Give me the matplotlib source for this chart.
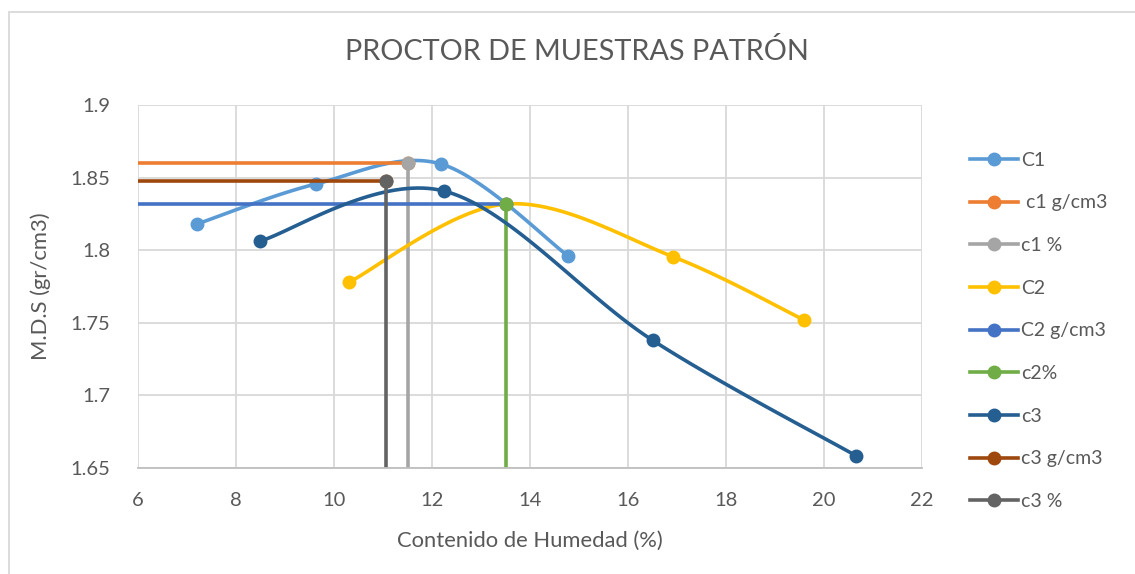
import numpy as np
import matplotlib
matplotlib.use("Agg")
import matplotlib.pyplot as plt
from matplotlib.patches import Rectangle

# data
c1_x = [7.2, 9.63, 12.18, 14.78]
c1_y = [1.818, 1.8456, 1.8594, 1.796]
c2_x = [10.31, 13.51, 16.92, 19.59]
c2_y = [1.778, 1.8318, 1.7955, 1.752]
c3_x = [8.49, 12.24, 16.5, 20.65]
c3_y = [1.8063, 1.8408, 1.738, 1.6585]

# optimum values (horizontal / vertical guide series)
c1_opt = (11.51, 1.860)
c2_opt = (13.51, 1.8318)
c3_opt = (11.06, 1.8478)

x_ticks = [6, 8, 10, 12, 14, 16, 18, 20, 22]
y_ticks = [1.65, 1.7, 1.75, 1.8, 1.85, 1.9]


def smooth(xs, ys, n=40):
    # Excel-like smoothed line: cubic bezier with catmull-rom control points
    p = np.column_stack([xs, ys])
    p = np.vstack([p[0], p, p[-1]])
    out = []
    for i in range(1, len(p) - 2):
        p0, p3 = p[i], p[i + 1]
        p1 = p0 + (p[i + 1] - p[i - 1]) / 6
        p2 = p3 - (p[i + 2] - p[i]) / 6
        t = np.linspace(0, 1, n)[:, None]
        seg = ((1 - t) ** 3) * p0 + 3 * ((1 - t) ** 2) * t * p1 + 3 * (1 - t) * t ** 2 * p2 + t ** 3 * p3
        out.append(seg)
    out = np.vstack(out)
    return out[:, 0], out[:, 1]


plt.rcParams['font.family'] = ['Lato', 'DejaVu Sans']
txt = '#595959'

fig = plt.figure(figsize=(11.35, 5.74), dpi=100)
ax = fig.add_axes([138 / 1135, 1 - 468 / 574, 784 / 1135, 363 / 574])

lw = 2.6
ms = 9


def curve(xs, ys, color, label):
    sx, sy = smooth(xs, ys)
    ax.plot(sx, sy, color=color, lw=lw, solid_capstyle='round')
    ax.plot(xs, ys, 'o', color=color, ms=ms)
    ax.plot([], [], '-o', color=color, lw=lw, ms=ms, label=label)


def hline(opt, color, label):
    ax.plot([0, opt[0]], [opt[1], opt[1]], '-o', color=color, lw=lw, ms=ms, label=label)


def vline(opt, color, label):
    ax.plot([opt[0], opt[0]], [0, opt[1]], '-o', color=color, lw=lw, ms=ms, label=label)


curve(c1_x, c1_y, '#5B9BD5', 'C1')
hline(c1_opt, '#ED7D31', ' c1 g/cm3')
vline(c1_opt, '#A5A5A5', 'c1 %')
curve(c2_x, c2_y, '#FFC000', 'C2')
hline(c2_opt, '#4472C4', 'C2 g/cm3')
vline(c2_opt, '#70AD47', 'c2%')
curve(c3_x, c3_y, '#255E91', 'c3')
hline(c3_opt, '#9E480E', 'c3 g/cm3')
vline(c3_opt, '#636363', 'c3 %')

ax.set_xlim(6, 22)
ax.set_ylim(1.65, 1.9)
ax.set_xticks(x_ticks)
ax.set_yticks(y_ticks)
ax.set_yticklabels(['1.65', '1.7', '1.75', '1.8', '1.85', '1.9'])
ax.grid(color='#D9D9D9', lw=1.3)
ax.set_axisbelow(True)
for s in ['top', 'right', 'left']:
    ax.spines[s].set_visible(False)
ax.spines['bottom'].set_color('#BFBFBF')
ax.spines['bottom'].set_linewidth(1.3)
ax.tick_params(length=0, labelsize=14.5, colors=txt)
ax.tick_params(axis='x', pad=17)
ax.tick_params(axis='y', pad=20)

ax.set_xlabel('Contenido de Humedad (%)', fontsize=15.8, color=txt, labelpad=16)
ax.set_ylabel('M.D.S (gr/cm3)', fontsize=15.8, color=txt, labelpad=14)
fig.text(577 / 1135, 1 - 52 / 574, 'PROCTOR DE MUESTRAS PATRÓN', ha='center', va='center',
         fontsize=20.8, color=txt)

fig.legend(loc='upper left', bbox_to_anchor=(962 / 1135, 1 - 144 / 574), frameon=False,
           fontsize=14, labelcolor=txt, handlelength=2.5, handletextpad=0.15,
           labelspacing=1.32, borderaxespad=0)

fig.add_artist(Rectangle((8.5 / 1135, -0.1), 1.2, 1 - 12.5 / 574 + 0.1, transform=fig.transFigure,
                         fill=False, edgecolor='#D9D9D9', lw=1.3))

fig.savefig('out.png', dpi=100)
